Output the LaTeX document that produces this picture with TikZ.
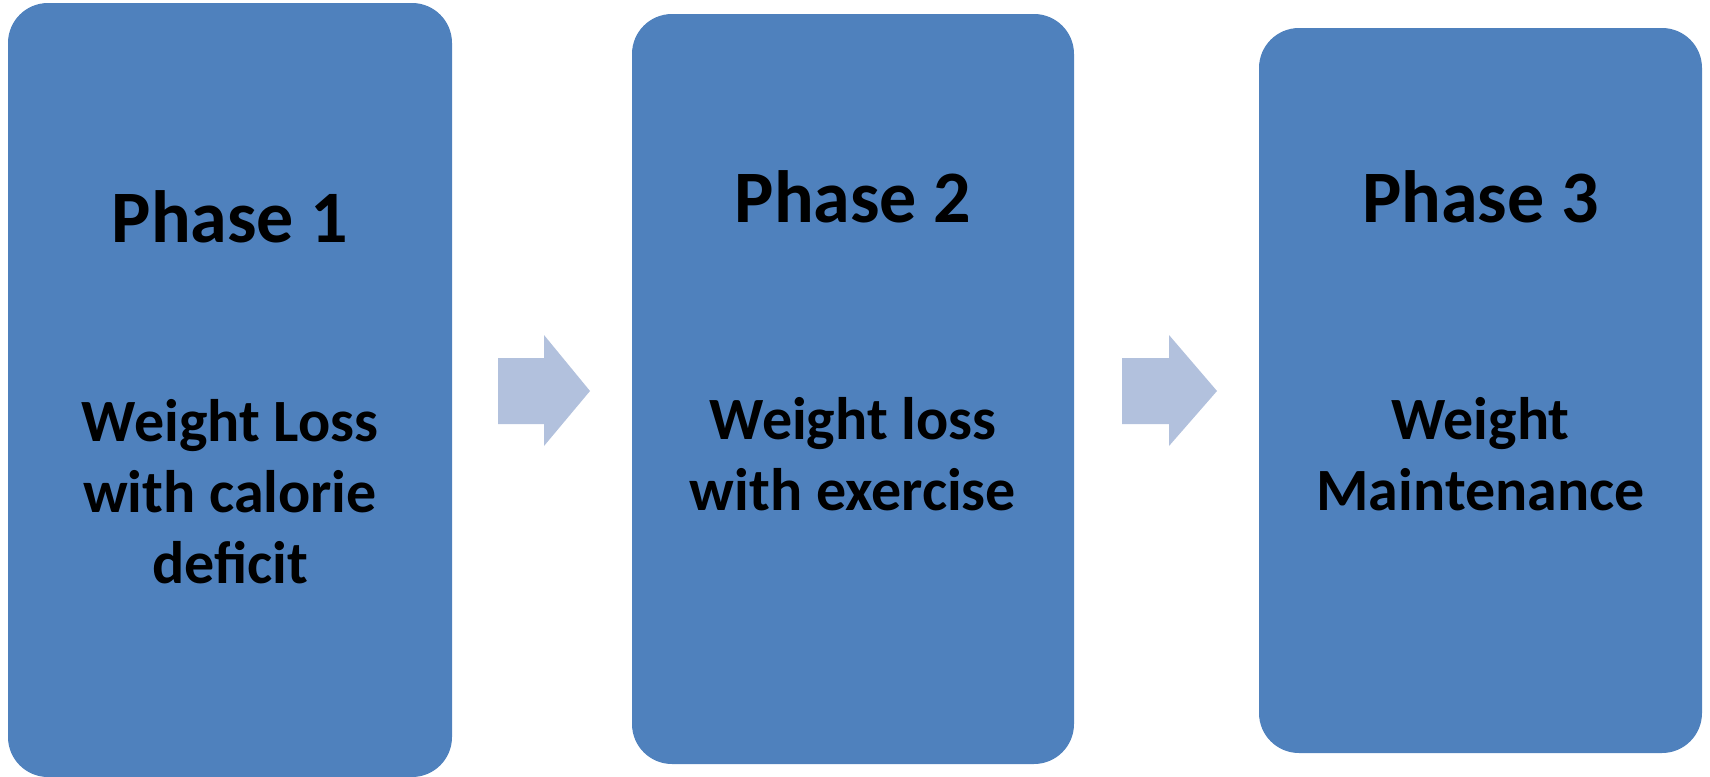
\documentclass[tikz,border=0pt]{standalone}
\usepackage{fontspec}
\setmainfont{Carlito}
\definecolor{boxblue}{HTML}{4F81BD}
\definecolor{arrowblue}{HTML}{B2C1DD}
\tikzset{
  phasebox/.style={rectangle, fill=boxblue, rounded corners=20pt, inner sep=0pt},
  titletext/.style={anchor=base, font=\bfseries\fontsize{37pt}{44pt}\selectfont, text=black, inner sep=0pt},
  bodytext/.style={anchor=base, align=center, font=\bfseries\fontsize{30pt}{35.5pt}\selectfont, text=black, inner sep=0pt},
  flowarrow/.style={fill=arrowblue}
}
\begin{document}
\begin{tikzpicture}[x=0.5pt, y=-0.5pt]
\useasboundingbox (0,0) rectangle (1710,777);
\node[phasebox, minimum width=222pt, minimum height=387pt] (b1) at (230,390) {};
\node[phasebox, minimum width=221pt, minimum height=375pt] (b2) at (853,389) {};
\node[phasebox, minimum width=221.5pt, minimum height=362.5pt] (b3) at (1480.5,390.5) {};
\node[titletext] (t1) at (230,242) {Phase 1};
\node[titletext] (t2) at (853,222) {Phase 2};
\node[titletext] (t3) at (1480.5,222) {Phase 3};
\node[bodytext] (d1) at (230,583) {Weight Loss\\with calorie\\deficit};
\node[bodytext] (d2) at (853,510) {Weight loss\\with exercise};
\node[bodytext] (d3) at (1480.5,510) {Weight\\Maintenance};
\fill[flowarrow] (498,358) -- (544,358) -- (544,335) -- (590,391) -- (544,446) -- (544,424) -- (498,424) -- cycle;
\fill[flowarrow] (1122,358) -- (1169,358) -- (1169,335) -- (1217,391) -- (1169,446) -- (1169,424) -- (1122,424) -- cycle;
\end{tikzpicture}
\end{document}
